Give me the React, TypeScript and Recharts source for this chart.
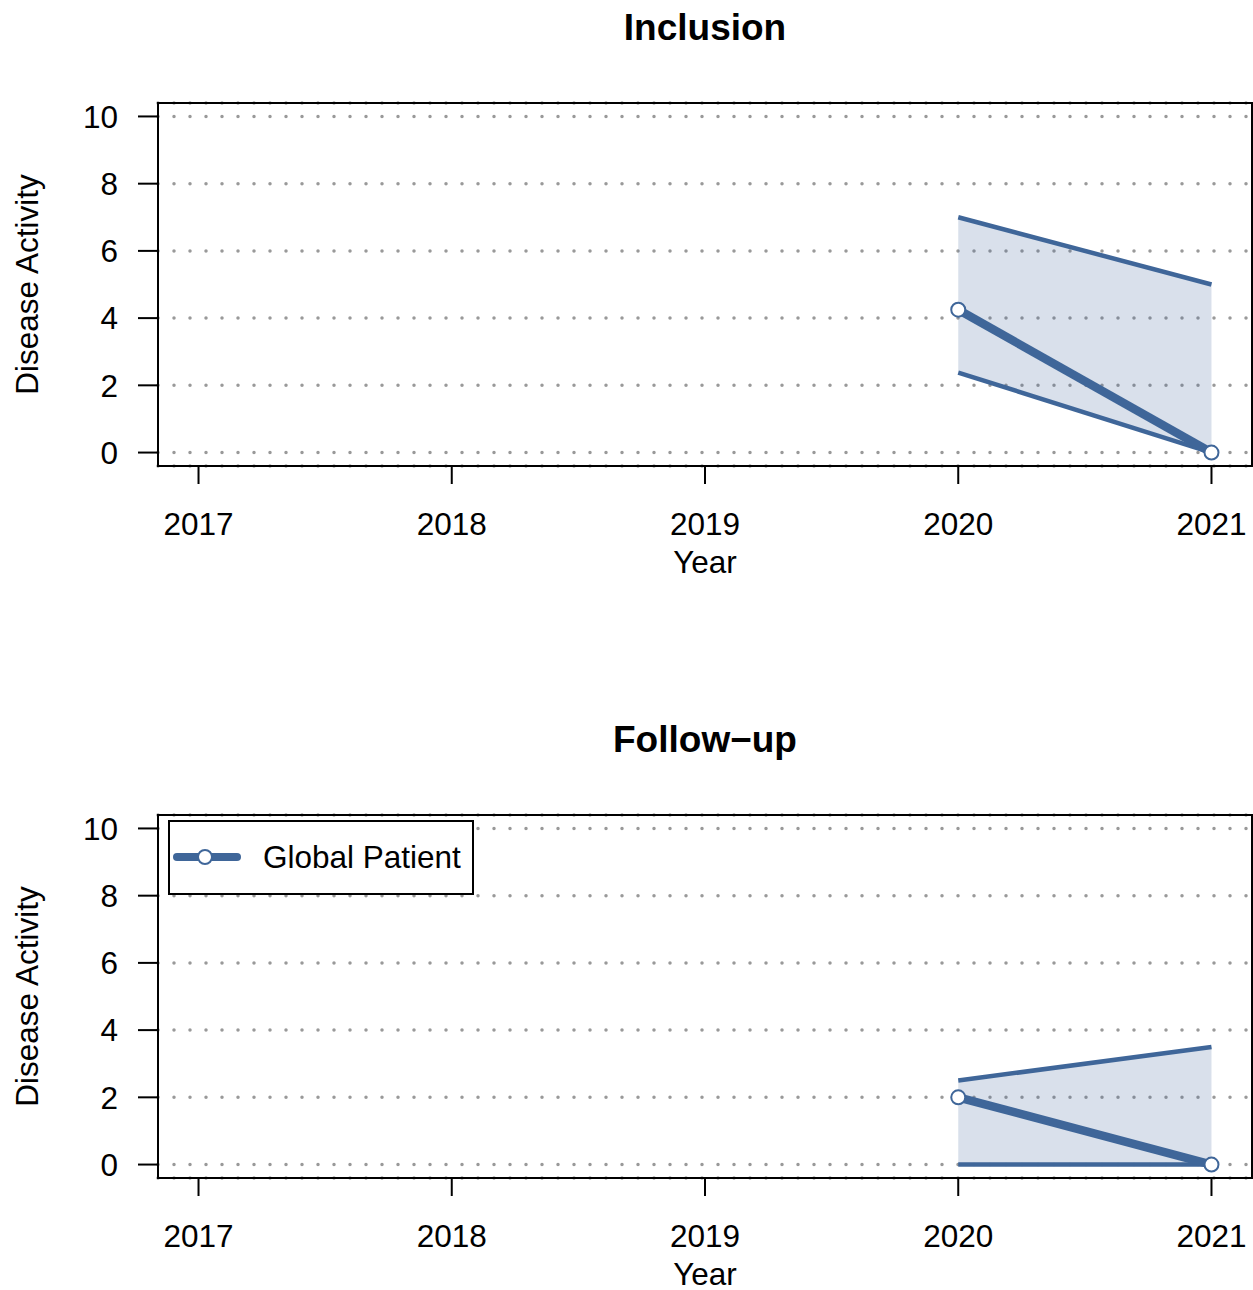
import {
  ComposedChart,
  Line,
  Area,
  XAxis,
  YAxis,
  CartesianGrid,
  ReferenceArea,
} from "recharts";

// ─── data ────────────────────────────────────────────────────────────────────

const years = [2020, 2021];
const xTicks = [2017, 2018, 2019, 2020, 2021];
const yTicks = [0, 2, 4, 6, 8, 10];

const inclusionMean = [4.25, 0];
const inclusionLow = [2.38, 0];
const inclusionHigh = [7.0, 5.0];

const followUpMean = [2.0, 0];
const followUpLow = [0, 0];
const followUpHigh = [2.5, 3.5];

const legendLabel = "Global Patient";

// ─── style ───────────────────────────────────────────────────────────────────

const FONT = "'Liberation Sans', Arial, Helvetica, sans-serif";
const FS = 31.5;
const BLUE = "#3F6699";
const X_DOMAIN = [2016.84, 2021.16];
const Y_DOMAIN = [-0.4, 10.4];
const W = 1253;

function LegendBox() {
  return (
    <div
      style={{
        position: "absolute",
        left: 168,
        top: 108,
        width: 306,
        height: 75,
        boxSizing: "border-box",
        border: "2px solid #000",
        background: "#fff",
        fontFamily: FONT,
      }}
    >
      <svg width={90} height={71} style={{ position: "absolute", left: 0, top: 0 }}>
        <line x1={7} x2={67} y1={35} y2={35} stroke={BLUE} strokeWidth={8} strokeLinecap="round" />
        <circle cx={35} cy={35} r={7} fill="#fff" stroke={BLUE} strokeWidth={2} />
      </svg>
      <span
        style={{
          position: "absolute",
          left: 93,
          top: 19.5,
          fontSize: FS,
          lineHeight: `${FS}px`,
          color: "#000",
          whiteSpace: "nowrap",
        }}
      >
        {legendLabel}
      </span>
    </div>
  );
}

interface PanelProps {
  title: string;
  mean: number[];
  low: number[];
  high: number[];
  top: number;
  height: number;
  showLegend?: boolean;
}

function Panel({ title, mean, low, high, top, height, showLegend }: PanelProps) {
  const data = years.map((year, i) => ({
    year,
    mean: mean[i],
    low: low[i],
    high: high[i],
    band: [low[i], high[i]],
  }));
  const axisH = height - 103 - 363;

  return (
    <div style={{ position: "absolute", left: 0, top, width: W, height }}>
      <div
        style={{
          position: "absolute",
          left: 158,
          width: 1094,
          top: 9,
          textAlign: "center",
          fontFamily: FONT,
          fontWeight: "bold",
          fontSize: 37,
          lineHeight: "37px",
          color: "#000",
        }}
      >
        {title}
      </div>
      <ComposedChart width={W} height={height} data={data} margin={{ top: 103, right: 1, left: 0, bottom: 0 }}>
        <CartesianGrid
          vertical={false}
          stroke="#999999"
          strokeWidth={3.5}
          strokeDasharray="0 16"
          strokeLinecap="round"
        />
        <XAxis
          dataKey="year"
          type="number"
          domain={X_DOMAIN}
          ticks={xTicks}
          interval={0}
          allowDataOverflow
          height={axisH}
          axisLine={false}
          tickLine={{ stroke: "#000", strokeWidth: 2 }}
          tickSize={18}
          tickMargin={29}
          tick={{ fill: "#000", fontSize: FS, fontFamily: FONT }}
          label={{
            content: (props: any) => {
              const vb = props.viewBox || { x: 0, y: 466, width: W, height: axisH };
              return (
                <text
                  x={vb.x + vb.width / 2}
                  y={vb.y + 96}
                  textAnchor="middle"
                  dominantBaseline="central"
                  fontSize={FS}
                  fontFamily={FONT}
                  fill="#000"
                >
                  Year
                </text>
              );
            },
          }}
        />
        <YAxis
          type="number"
          domain={Y_DOMAIN}
          ticks={yTicks}
          interval={0}
          allowDataOverflow
          width={158}
          axisLine={false}
          tickLine={{ stroke: "#000", strokeWidth: 2 }}
          tickSize={20}
          tickMargin={20}
          tick={{ fill: "#000", fontSize: FS, fontFamily: FONT }}
          label={{
            content: (props: any) => {
              const vb = props.viewBox || { x: 0, y: 103, width: 158, height: 363 };
              const cx = vb.x + 27;
              const cy = vb.y + vb.height / 2;
              return (
                <text
                  x={cx}
                  y={cy}
                  transform={`rotate(-90 ${cx} ${cy})`}
                  textAnchor="middle"
                  dominantBaseline="central"
                  fontSize={FS}
                  fontFamily={FONT}
                  fill="#000"
                >
                  Disease Activity
                </text>
              );
            },
          }}
        />
        <Area
          type="linear"
          dataKey="band"
          stroke="none"
          fill={BLUE}
          fillOpacity={0.2}
          isAnimationActive={false}
          legendType="none"
        />
        <Line type="linear" dataKey="high" stroke={BLUE} strokeWidth={4.5} dot={false} activeDot={false} isAnimationActive={false} />
        <Line type="linear" dataKey="low" stroke={BLUE} strokeWidth={4.5} dot={false} activeDot={false} isAnimationActive={false} />
        <Line
          type="linear"
          dataKey="mean"
          stroke={BLUE}
          strokeWidth={8.5}
          dot={{ r: 7, fill: "#fff", stroke: BLUE, strokeWidth: 2 }}
          activeDot={false}
          isAnimationActive={false}
        />
        <ReferenceArea
          x1={X_DOMAIN[0]}
          x2={X_DOMAIN[1]}
          y1={Y_DOMAIN[0]}
          y2={Y_DOMAIN[1]}
          fill="none"
          stroke="#000"
          strokeWidth={2}
          ifOverflow="visible"
        />
      </ComposedChart>
      {showLegend && <LegendBox />}
    </div>
  );
}

export default function App() {
  return (
    <div style={{ position: "absolute", left: 0, top: 0, width: W, height: 1290, background: "#fff", overflow: "hidden" }}>
      <Panel title="Inclusion" mean={inclusionMean} low={inclusionLow} high={inclusionHigh} top={0} height={600} />
      <Panel
        title="Follow−up"
        mean={followUpMean}
        low={followUpLow}
        high={followUpHigh}
        top={712}
        height={578}
        showLegend
      />
    </div>
  );
}
